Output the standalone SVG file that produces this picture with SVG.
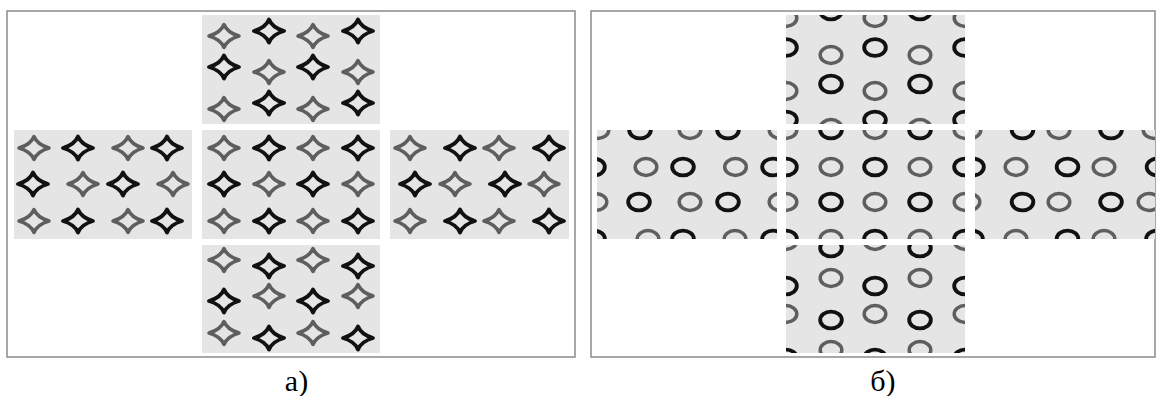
<svg xmlns="http://www.w3.org/2000/svg" xmlns:xlink="http://www.w3.org/1999/xlink" width="1156" height="396" viewBox="0 0 1156 396">
<style>
.frame{fill:none;stroke:#8a8a8a;stroke-width:1.5}
.tile{fill:#e5e5e5}
.g{fill:none;stroke:#5e5e5e;stroke-width:3.5;stroke-linejoin:round}
.k{fill:none;stroke:#111;stroke-width:3.9;stroke-linejoin:round}
.lbl{font-family:"Liberation Serif","Times New Roman",serif;font-size:30px;fill:#000;text-anchor:middle}
</style>
<defs>
<path id="star" d="M-15,0 C-7.5,-2.2 -2.2,-6 0,-11.5 C2.2,-6 7.5,-2.2 15,0 C7.5,2.2 2.2,6 0,11.5 C-2.2,6 -7.5,2.2 -15,0Z"/>
<ellipse id="ring" cx="0" cy="0" rx="10.8" ry="8.4"/>
<clipPath id="cbT"><rect x="786" y="15" width="179" height="109"/></clipPath>
<clipPath id="cbL"><rect x="597" y="130" width="180" height="109"/></clipPath>
<clipPath id="cbC"><rect x="786" y="130" width="179" height="109"/></clipPath>
<clipPath id="cbR"><rect x="975" y="130" width="180" height="109"/></clipPath>
<clipPath id="cbB"><rect x="786" y="245" width="179" height="108"/></clipPath>
</defs>
<rect width="1156" height="396" fill="#fff"/>

<g id="panel-a">
<rect class="frame" x="7" y="11" width="568" height="346"/>
<g id="a-top">
<rect class="tile" x="202" y="15" width="178" height="109"/>
<use href="#star" class="g" x="224" y="36"/><use href="#star" class="k" x="269" y="31"/><use href="#star" class="g" x="313" y="36"/><use href="#star" class="k" x="358" y="31"/>
<use href="#star" class="k" x="224" y="67"/><use href="#star" class="g" x="269" y="72"/><use href="#star" class="k" x="313" y="67"/><use href="#star" class="g" x="358" y="72"/>
<use href="#star" class="g" x="224" y="109"/><use href="#star" class="k" x="269" y="103"/><use href="#star" class="g" x="313" y="109"/><use href="#star" class="k" x="358" y="103"/>
</g>
<g id="a-left">
<rect class="tile" x="14" y="130" width="178" height="109"/>
<use href="#star" class="g" x="34" y="148"/><use href="#star" class="k" x="78" y="148"/><use href="#star" class="g" x="128" y="148"/><use href="#star" class="k" x="167" y="148"/>
<use href="#star" class="k" x="33" y="184"/><use href="#star" class="g" x="83" y="184"/><use href="#star" class="k" x="123" y="184"/><use href="#star" class="g" x="173" y="184"/>
<use href="#star" class="g" x="34" y="221"/><use href="#star" class="k" x="78" y="221"/><use href="#star" class="g" x="128" y="221"/><use href="#star" class="k" x="167" y="221"/>
</g>
<g id="a-center">
<rect class="tile" x="202" y="130" width="178" height="109"/>
<use href="#star" class="g" x="224" y="148"/><use href="#star" class="k" x="269" y="148"/><use href="#star" class="g" x="313" y="148"/><use href="#star" class="k" x="358" y="148"/>
<use href="#star" class="k" x="224" y="184"/><use href="#star" class="g" x="269" y="184"/><use href="#star" class="k" x="313" y="184"/><use href="#star" class="g" x="358" y="184"/>
<use href="#star" class="g" x="224" y="221"/><use href="#star" class="k" x="269" y="221"/><use href="#star" class="g" x="313" y="221"/><use href="#star" class="k" x="358" y="221"/>
</g>
<g id="a-right">
<rect class="tile" x="390" y="130" width="179" height="109"/>
<use href="#star" class="g" x="410" y="148"/><use href="#star" class="k" x="460" y="148"/><use href="#star" class="g" x="499" y="148"/><use href="#star" class="k" x="549" y="148"/>
<use href="#star" class="k" x="415" y="184"/><use href="#star" class="g" x="455" y="184"/><use href="#star" class="k" x="505" y="184"/><use href="#star" class="g" x="544" y="184"/>
<use href="#star" class="g" x="410" y="221"/><use href="#star" class="k" x="460" y="221"/><use href="#star" class="g" x="499" y="221"/><use href="#star" class="k" x="549" y="221"/>
</g>
<g id="a-bottom">
<rect class="tile" x="202" y="245" width="178" height="108"/>
<use href="#star" class="g" x="224" y="260"/><use href="#star" class="k" x="269" y="266"/><use href="#star" class="g" x="313" y="260"/><use href="#star" class="k" x="358" y="266"/>
<use href="#star" class="k" x="224" y="301"/><use href="#star" class="g" x="269" y="296"/><use href="#star" class="k" x="313" y="301"/><use href="#star" class="g" x="358" y="296"/>
<use href="#star" class="g" x="224" y="333"/><use href="#star" class="k" x="269" y="338"/><use href="#star" class="g" x="313" y="333"/><use href="#star" class="k" x="358" y="338"/>
</g>
<text class="lbl" x="296.5" y="391">а)</text>
</g>

<g id="panel-b">
<rect class="frame" x="591" y="11" width="564" height="346"/>
<g id="b-top">
<rect class="tile" x="786" y="15" width="179" height="109"/>
<g clip-path="url(#cbT)">
<use href="#ring" class="g" x="786" y="18"/><use href="#ring" class="k" x="786" y="47.5"/><use href="#ring" class="g" x="786" y="91"/><use href="#ring" class="k" x="786" y="120"/>
<use href="#ring" class="k" x="831" y="11"/><use href="#ring" class="g" x="831" y="55"/><use href="#ring" class="k" x="831" y="84"/><use href="#ring" class="g" x="831" y="128"/>
<use href="#ring" class="g" x="875" y="18"/><use href="#ring" class="k" x="875" y="47.5"/><use href="#ring" class="g" x="875" y="91"/><use href="#ring" class="k" x="875" y="120"/>
<use href="#ring" class="k" x="920" y="11"/><use href="#ring" class="g" x="920" y="55"/><use href="#ring" class="k" x="920" y="84"/><use href="#ring" class="g" x="920" y="128"/>
<use href="#ring" class="g" x="965" y="18"/><use href="#ring" class="k" x="965" y="47.5"/><use href="#ring" class="g" x="965" y="91"/><use href="#ring" class="k" x="965" y="120"/>
</g>
</g>
<g id="b-left">
<rect class="tile" x="597" y="130" width="180" height="109"/>
<g clip-path="url(#cbL)">
<use href="#ring" class="g" x="598" y="130"/><use href="#ring" class="k" x="640" y="130"/><use href="#ring" class="g" x="690" y="130"/><use href="#ring" class="k" x="728" y="130"/><use href="#ring" class="g" x="780" y="130"/>
<use href="#ring" class="k" x="594" y="167"/><use href="#ring" class="g" x="646" y="167"/><use href="#ring" class="k" x="683" y="167"/><use href="#ring" class="g" x="735.5" y="167"/><use href="#ring" class="k" x="773" y="167"/>
<use href="#ring" class="g" x="596" y="202"/><use href="#ring" class="k" x="639" y="202"/><use href="#ring" class="g" x="690" y="202"/><use href="#ring" class="k" x="728" y="202"/><use href="#ring" class="g" x="780" y="202"/>
<use href="#ring" class="k" x="594" y="239"/><use href="#ring" class="g" x="648" y="239"/><use href="#ring" class="k" x="683" y="239"/><use href="#ring" class="g" x="735" y="239"/><use href="#ring" class="k" x="773" y="239"/>
</g>
</g>
<g id="b-center">
<rect class="tile" x="786" y="130" width="179" height="109"/>
<g clip-path="url(#cbC)">
<use href="#ring" class="g" x="786" y="130"/><use href="#ring" class="k" x="831" y="130"/><use href="#ring" class="g" x="875" y="130"/><use href="#ring" class="k" x="920" y="130"/><use href="#ring" class="g" x="965" y="130"/>
<use href="#ring" class="k" x="786" y="167"/><use href="#ring" class="g" x="831" y="167"/><use href="#ring" class="k" x="875" y="167"/><use href="#ring" class="g" x="920" y="167"/><use href="#ring" class="k" x="965" y="167"/>
<use href="#ring" class="g" x="786" y="202"/><use href="#ring" class="k" x="831" y="202"/><use href="#ring" class="g" x="875" y="202"/><use href="#ring" class="k" x="920" y="202"/><use href="#ring" class="g" x="965" y="202"/>
<use href="#ring" class="k" x="786" y="239"/><use href="#ring" class="g" x="831" y="239"/><use href="#ring" class="k" x="875" y="239"/><use href="#ring" class="g" x="920" y="239"/><use href="#ring" class="k" x="965" y="239"/>
</g>
</g>
<g id="b-right">
<rect class="tile" x="975" y="130" width="180" height="109"/>
<g clip-path="url(#cbR)">
<use href="#ring" class="g" x="970" y="130"/><use href="#ring" class="k" x="1022.5" y="130"/><use href="#ring" class="g" x="1059" y="130"/><use href="#ring" class="k" x="1111" y="130"/><use href="#ring" class="g" x="1154" y="130"/>
<use href="#ring" class="k" x="973" y="167"/><use href="#ring" class="g" x="1016" y="167"/><use href="#ring" class="k" x="1067.5" y="167"/><use href="#ring" class="g" x="1104" y="167"/><use href="#ring" class="k" x="1157.5" y="167"/>
<use href="#ring" class="g" x="969" y="202"/><use href="#ring" class="k" x="1022.5" y="202"/><use href="#ring" class="g" x="1059" y="202"/><use href="#ring" class="k" x="1111" y="202"/><use href="#ring" class="g" x="1149" y="202"/>
<use href="#ring" class="k" x="972" y="239"/><use href="#ring" class="g" x="1016" y="239"/><use href="#ring" class="k" x="1067.5" y="239"/><use href="#ring" class="g" x="1104" y="239"/><use href="#ring" class="k" x="1157" y="239"/>
</g>
</g>
<g id="b-bottom">
<rect class="tile" x="786" y="245" width="179" height="108"/>
<g clip-path="url(#cbB)">
<use href="#ring" class="g" x="786" y="241"/><use href="#ring" class="k" x="786" y="286"/><use href="#ring" class="g" x="786" y="314"/><use href="#ring" class="k" x="786" y="358"/>
<use href="#ring" class="k" x="831" y="248"/><use href="#ring" class="g" x="831" y="278"/><use href="#ring" class="k" x="831" y="320"/><use href="#ring" class="g" x="831" y="350"/>
<use href="#ring" class="g" x="875" y="241"/><use href="#ring" class="k" x="875" y="286"/><use href="#ring" class="g" x="875" y="314"/><use href="#ring" class="k" x="875" y="358"/>
<use href="#ring" class="k" x="920" y="248"/><use href="#ring" class="g" x="920" y="278"/><use href="#ring" class="k" x="920" y="320"/><use href="#ring" class="g" x="920" y="350"/>
<use href="#ring" class="g" x="965" y="241"/><use href="#ring" class="k" x="965" y="286"/><use href="#ring" class="g" x="965" y="314"/><use href="#ring" class="k" x="965" y="358"/>
</g>
</g>
<text class="lbl" x="883" y="391">б)</text>
</g>
</svg>
